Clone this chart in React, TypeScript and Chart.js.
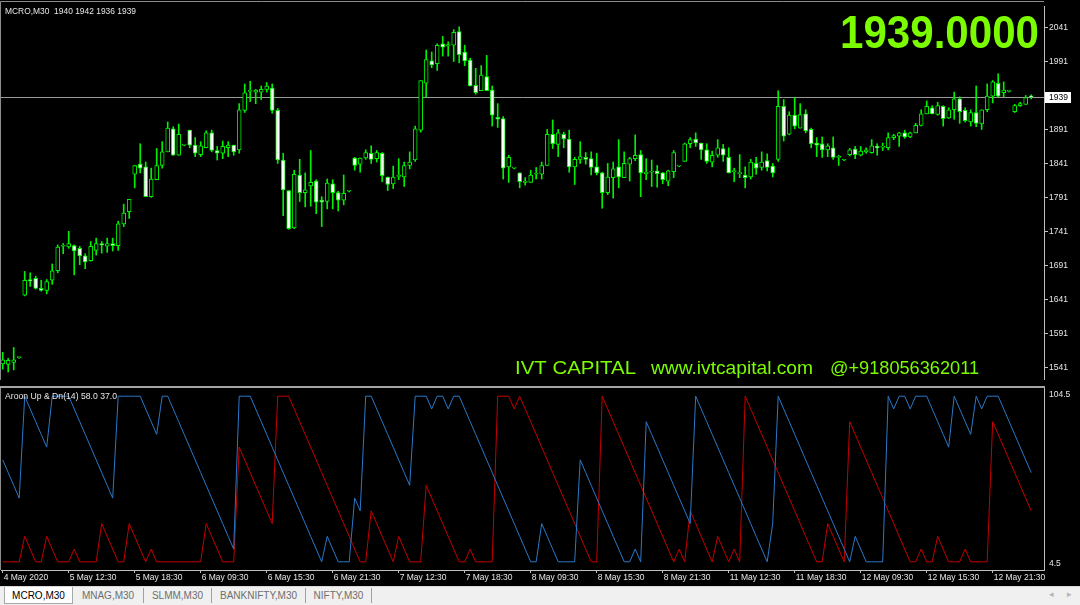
import React, { useEffect, useRef } from "react";
import { Chart, registerables } from "chart.js";

Chart.register(...registerables);

// ---------- data ----------
const SYMBOL = "MCRO,M30";

const OPEN = [
  1546, 1545, 1548, 1555, 1647, 1670, 1672, 1657, 1654, 1669, 1683, 1719, 1718, 1720, 1716, 1705, 1698, 1713, 1723, 1719,
  1723, 1720, 1752, 1770, 1825, 1840, 1836, 1792, 1817, 1838, 1858, 1892, 1853, 1868, 1890, 1868, 1854, 1864, 1886, 1860,
  1856, 1864, 1868, 1861, 1919, 1947, 1946, 1946, 1950, 1952, 1919, 1846, 1801, 1746, 1824, 1798, 1808, 1815, 1787, 1785,
  1811, 1798, 1787, 1800, 1849, 1840, 1849, 1856, 1848, 1856, 1821, 1811, 1822, 1821, 1838, 1846, 1890, 1959, 1992, 1988,
  2017, 2014, 2015, 2035, 2005, 1993, 1956, 1948, 1969, 1949, 1909, 1907, 1836, 1834, 1827, 1813, 1813, 1825, 1825, 1838,
  1884, 1869, 1884, 1877, 1836, 1847, 1850, 1848, 1836, 1827, 1798, 1820, 1836, 1820, 1840, 1848, 1854, 1826, 1828, 1830,
  1827, 1815, 1829, 1837, 1844, 1870, 1877, 1871, 1861, 1843, 1853, 1863, 1850, 1829, 1826, 1824, 1821, 1841, 1835, 1845,
  1837, 1847, 1925, 1884, 1912, 1893, 1914, 1891, 1871, 1870, 1861, 1864, 1850, 1846, 1854, 1862, 1853, 1858, 1857, 1866,
  1865, 1864, 1879, 1881, 1886, 1880, 1886, 1897, 1914, 1923, 1913, 1925, 1908, 1920, 1936, 1919, 1902, 1916, 1899, 1920,
  1940, 1959, 1945, 1947, 1917, 1926, 1928, 1940,
];
const HIGH = [
  1563, 1554, 1570, 1556, 1682, 1680, 1675, 1669, 1670, 1693, 1721, 1723, 1741, 1721, 1719, 1708, 1726, 1731, 1726, 1731,
  1731, 1756, 1781, 1788, 1838, 1870, 1843, 1834, 1863, 1873, 1902, 1895, 1899, 1869, 1890, 1879, 1873, 1889, 1890, 1866,
  1874, 1873, 1868, 1929, 1958, 1962, 1950, 1955, 1960, 1958, 1922, 1856, 1801, 1831, 1847, 1827, 1860, 1817, 1792, 1818,
  1817, 1800, 1824, 1801, 1850, 1849, 1861, 1867, 1860, 1857, 1821, 1837, 1848, 1843, 1858, 1896, 1963, 2008, 2005, 2017,
  2028, 2020, 2038, 2042, 2015, 1996, 1981, 1985, 2000, 1955, 1929, 1910, 1853, 1835, 1827, 1820, 1831, 1835, 1843, 1891,
  1905, 1891, 1887, 1890, 1850, 1873, 1857, 1858, 1856, 1828, 1841, 1843, 1876, 1858, 1850, 1883, 1860, 1848, 1846, 1838,
  1828, 1831, 1860, 1838, 1871, 1879, 1886, 1871, 1870, 1859, 1876, 1869, 1864, 1834, 1854, 1836, 1847, 1850, 1858, 1855,
  1841, 1948, 1935, 1917, 1938, 1929, 1920, 1893, 1879, 1880, 1870, 1880, 1853, 1847, 1863, 1866, 1866, 1864, 1876, 1870,
  1871, 1886, 1884, 1887, 1890, 1887, 1900, 1920, 1933, 1926, 1931, 1926, 1923, 1946, 1939, 1923, 1920, 1955, 1920, 1958,
  1963, 1973, 1961, 1948, 1928, 1931, 1941, 1942,
];
const LOW = [
  1538, 1534, 1537, 1554, 1646, 1660, 1656, 1653, 1649, 1663, 1680, 1708, 1716, 1677, 1692, 1686, 1697, 1706, 1709, 1710,
  1712, 1713, 1748, 1760, 1805, 1827, 1792, 1791, 1817, 1834, 1858, 1853, 1853, 1867, 1864, 1851, 1851, 1864, 1858, 1846,
  1848, 1851, 1853, 1856, 1916, 1932, 1929, 1935, 1946, 1915, 1841, 1764, 1744, 1745, 1785, 1777, 1778, 1767, 1748, 1774,
  1774, 1771, 1780, 1799, 1831, 1828, 1847, 1841, 1843, 1814, 1801, 1804, 1817, 1807, 1833, 1844, 1887, 1939, 1982, 1978,
  1999, 1999, 1991, 1989, 1985, 1955, 1943, 1948, 1948, 1896, 1894, 1818, 1813, 1833, 1805, 1809, 1813, 1818, 1818, 1838,
  1863, 1851, 1864, 1828, 1810, 1841, 1840, 1824, 1824, 1775, 1795, 1790, 1805, 1820, 1815, 1845, 1792, 1817, 1807, 1806,
  1811, 1808, 1820, 1836, 1844, 1864, 1866, 1847, 1841, 1836, 1850, 1844, 1827, 1814, 1820, 1805, 1818, 1825, 1831, 1830,
  1821, 1844, 1874, 1883, 1892, 1893, 1886, 1864, 1851, 1850, 1851, 1847, 1838, 1845, 1852, 1848, 1852, 1856, 1856, 1853,
  1860, 1861, 1876, 1866, 1878, 1879, 1886, 1896, 1914, 1914, 1912, 1896, 1907, 1906, 1900, 1902, 1896, 1895, 1891, 1917,
  1930, 1939, 1939, 1946, 1916, 1925, 1928, 1936,
];
const CLOSE = [
  1552, 1551, 1552, 1555, 1669, 1668, 1657, 1654, 1667, 1683, 1718, 1720, 1723, 1712, 1705, 1696, 1719, 1723, 1721, 1723,
  1720, 1752, 1768, 1788, 1838, 1834, 1792, 1818, 1838, 1858, 1893, 1853, 1884, 1868, 1868, 1856, 1867, 1886, 1860, 1856,
  1866, 1868, 1858, 1920, 1945, 1948, 1949, 1950, 1955, 1919, 1846, 1802, 1745, 1825, 1798, 1802, 1813, 1784, 1784, 1812,
  1798, 1787, 1797, 1800, 1838, 1849, 1857, 1847, 1857, 1823, 1810, 1821, 1823, 1838, 1843, 1892, 1963, 1994, 1986, 2015,
  2012, 2016, 2034, 2001, 1992, 1955, 1945, 1971, 1948, 1912, 1906, 1834, 1850, 1834, 1814, 1815, 1824, 1826, 1838, 1884,
  1870, 1886, 1877, 1836, 1847, 1851, 1847, 1835, 1827, 1798, 1821, 1833, 1821, 1841, 1848, 1853, 1827, 1828, 1828, 1826,
  1817, 1830, 1857, 1837, 1870, 1876, 1871, 1861, 1844, 1853, 1864, 1853, 1827, 1829, 1826, 1820, 1843, 1834, 1843, 1835,
  1827, 1925, 1881, 1912, 1896, 1913, 1889, 1870, 1868, 1861, 1867, 1850, 1851, 1846, 1861, 1854, 1859, 1861, 1867, 1864,
  1866, 1879, 1882, 1886, 1880, 1886, 1897, 1914, 1925, 1914, 1926, 1907, 1920, 1936, 1917, 1904, 1916, 1900, 1920, 1940,
  1961, 1940, 1949, 1947, 1926, 1929, 1938, 1939,
];

const PRICE_TICKS = [2041, 1991, 1941, 1891, 1841, 1791, 1741, 1691, 1641, 1591, 1541];
const TIME_LABELS = [
  "4 May 2020", "5 May 12:30", "5 May 18:30", "6 May 09:30", "6 May 15:30", "6 May 21:30",
  "7 May 12:30", "7 May 18:30", "8 May 09:30", "8 May 15:30", "8 May 21:30", "11 May 12:30",
  "11 May 18:30", "12 May 09:30", "12 May 15:30", "12 May 21:30",
];
const BARS_PER_LABEL = 12;

// Aroon(14): first 13 values need history before the first visible bar
const AROON_PERIOD = 14;
const AROON_UP_HEAD = [65, 58, 51, 44, 100, 93, 86, 79, 72, 100, 100, 100, 100];
const AROON_DN_HEAD = [9, 9, 9, 9, 23, 16, 9, 9, 23, 16, 9, 9, 9];

const WATERMARK = ["IVT CAPITAL", "www.ivtcapital.com", "@+918056362011"];
const TABS = ["MCRO,M30", "MNAG,M30", "SLMM,M30", "BANKNIFTY,M30", "NIFTY,M30"];

// ---------- styling / layout ----------
const X_MIN = -0.31;
const X_MAX = 189.33;
const PRICE_MIN = 1522.3;
const PRICE_MAX = 2072.6;
const AROON_MIN = 4.5;
const AROON_MAX = 104.5;

const CANDLE = "#00f000";
const AXIS_LINE = "#c0c0c0";
const TEXT = "#e6e6e6";
const GREEN_TEXT = "#7cfc00";
const UP_COLOR = "#2a78c8";
const DN_COLOR = "#c40000";
const FONT = '"Liberation Sans", Arial, sans-serif';
const WATERMARK_BOXES = [
  [515, 121],
  [651, 162],
  [830, 149],
];
const TAB_WIDTHS = [69, 71, 68, 94, 66];

function aroonSeries(values: number[], head: number[], wantHigh: boolean): number[] {
  const step = Math.floor(100 / AROON_PERIOD);
  return values.map((_, i) => {
    if (i < AROON_PERIOD - 1) return head[i];
    let best = i;
    for (let k = i - 1; k >= i - AROON_PERIOD + 1; k--) {
      if (wantHigh ? values[k] > values[best] : values[k] < values[best]) best = k;
    }
    return 100 - step * (i - best);
  });
}

function drawFitted(ctx: CanvasRenderingContext2D, text: string, x: number, y: number, width: number) {
  const w = ctx.measureText(text).width || 1;
  ctx.save();
  ctx.translate(x, y);
  ctx.scale(width / w, 1);
  ctx.fillText(text, 0, 0);
  ctx.restore();
}

export default function App() {
  const mainRef = useRef<HTMLCanvasElement | null>(null);
  const aroonRef = useRef<HTMLCanvasElement | null>(null);

  useEffect(() => {
    const n = CLOSE.length;
    const last = n - 1;
    const AROON_UP = aroonSeries(HIGH, AROON_UP_HEAD, true);
    const AROON_DN = aroonSeries(LOW, AROON_DN_HEAD, false);

    const mainOverlay = {
      id: "mainOverlay",
      beforeDatasetsDraw(chart: any) {
        const { ctx, chartArea: a, scales } = chart;
        const py = Math.round(scales.y.getPixelForValue(CLOSE[last])) + 0.5;
        ctx.save();
        ctx.strokeStyle = "#9a9a9a";
        ctx.lineWidth = 1;
        ctx.beginPath();
        ctx.moveTo(a.left, py);
        ctx.lineTo(a.right, py);
        ctx.stroke();
        ctx.restore();
      },
      afterDraw(chart: any) {
        const { ctx, chartArea: a, scales } = chart;
        ctx.save();
        // frame
        ctx.strokeStyle = "#8c8c8c";
        ctx.lineWidth = 1;
        ctx.beginPath();
        ctx.moveTo(0.5, a.bottom);
        ctx.lineTo(0.5, 1.5);
        ctx.lineTo(a.right, 1.5);
        ctx.stroke();
        // last price box
        const py = Math.round(scales.y.getPixelForValue(CLOSE[last]));
        ctx.fillStyle = "#ffffff";
        ctx.fillRect(a.right + 1, py - 5, 26, 11);
        ctx.fillStyle = "#000000";
        ctx.font = `8.5px ${FONT}`;
        ctx.textBaseline = "middle";
        ctx.textAlign = "left";
        ctx.fillText(String(CLOSE[last]), a.right + 5, py + 0.5);
        // header
        ctx.textBaseline = "alphabetic";
        ctx.fillStyle = TEXT;
        ctx.font = `9px ${FONT}`;
        drawFitted(ctx, `${SYMBOL}  ${OPEN[last]} ${HIGH[last]} ${LOW[last]} ${CLOSE[last]}`, 5, 14, 131);
        // big last price
        ctx.fillStyle = GREEN_TEXT;
        ctx.font = `bold 46px ${FONT}`;
        drawFitted(ctx, CLOSE[last].toFixed(4), 840, 48, 199);
        // watermark
        ctx.font = `19px ${FONT}`;
        WATERMARK.forEach((t, k) => drawFitted(ctx, t, WATERMARK_BOXES[k][0], 374, WATERMARK_BOXES[k][1]));
        ctx.restore();
      },
    };

    const main = new Chart(mainRef.current as HTMLCanvasElement, {
      type: "bar",
      data: {
        datasets: [
          {
            label: "wick",
            data: LOW.map((l, i) => ({ x: i, y: [l, HIGH[i]] })) as any,
            backgroundColor: CANDLE,
            borderWidth: 0,
            barThickness: 1,
            grouped: false,
            order: 2,
          },
          {
            label: "body",
            data: OPEN.map((o, i) => ({ x: i, y: [o, CLOSE[i]] })) as any,
            backgroundColor: OPEN.map((o, i) => (CLOSE[i] >= o ? "#000000" : "#ffffff")),
            borderColor: CANDLE,
            borderWidth: 1,
            borderSkipped: false,
            barThickness: 4,
            minBarLength: 1,
            grouped: false,
            order: 1,
          },
        ],
      },
      options: {
        responsive: false,
        animation: false,
        devicePixelRatio: 1,
        events: [],
        layout: { padding: { left: 1, top: 2, right: 0, bottom: 1 } },
        plugins: { legend: { display: false }, tooltip: { enabled: false } },
        scales: {
          x: { type: "linear", display: false, min: X_MIN, max: X_MAX, offset: false },
          y: {
            position: "right",
            min: PRICE_MIN,
            max: PRICE_MAX,
            afterBuildTicks: (s: any) => {
              s.ticks = PRICE_TICKS.map((v) => ({ value: v }));
            },
            afterFit: (s: any) => {
              s.width = 36;
            },
            ticks: {
              color: TEXT,
              font: { size: 8.5, family: FONT },
              padding: 1,
              callback: (v: any) => String(v),
            },
            grid: { drawOnChartArea: false, drawTicks: true, tickLength: 4, color: AXIS_LINE },
            border: { display: true, color: AXIS_LINE, width: 1 },
          },
        },
      } as any,
      plugins: [mainOverlay],
    });

    const aroonOverlay = {
      id: "aroonOverlay",
      afterDraw(chart: any) {
        const { ctx, chartArea: a, scales } = chart;
        ctx.save();
        ctx.strokeStyle = "#8c8c8c";
        ctx.lineWidth = 1;
        ctx.beginPath();
        ctx.moveTo(0.5, a.top);
        ctx.lineTo(0.5, a.bottom);
        ctx.stroke();
        ctx.fillStyle = TEXT;
        ctx.font = `9px ${FONT}`;
        ctx.textBaseline = "alphabetic";
        drawFitted(
          ctx,
          `Aroon Up & Dn(${AROON_PERIOD}) ${AROON_UP[last].toFixed(1)} ${AROON_DN[last].toFixed(1)}`,
          5,
          a.top + 11,
          112
        );
        ctx.font = `8.5px ${FONT}`;
        ctx.textBaseline = "middle";
        ctx.fillText(scales.y.max.toFixed(1), a.right + 5, a.top + 7);
        ctx.fillText(scales.y.min.toFixed(1), a.right + 5, a.bottom - 6);
        ctx.restore();
      },
    };

    const aroon = new Chart(aroonRef.current as HTMLCanvasElement, {
      type: "line",
      data: {
        datasets: [
          {
            label: "Aroon Up",
            data: AROON_UP.map((v, i) => ({ x: i, y: v })),
            borderColor: UP_COLOR,
            borderWidth: 1,
            pointRadius: 0,
            tension: 0,
          },
          {
            label: "Aroon Dn",
            data: AROON_DN.map((v, i) => ({ x: i, y: v })),
            borderColor: DN_COLOR,
            borderWidth: 1,
            pointRadius: 0,
            tension: 0,
          },
        ],
      },
      options: {
        responsive: false,
        animation: false,
        devicePixelRatio: 1,
        events: [],
        layout: { padding: { left: 1, top: 0, right: 0, bottom: 0 } },
        plugins: { legend: { display: false }, tooltip: { enabled: false } },
        scales: {
          x: {
            type: "linear",
            min: X_MIN,
            max: X_MAX,
            offset: false,
            afterBuildTicks: (s: any) => {
              s.ticks = TIME_LABELS.map((_, k) => ({ value: k * BARS_PER_LABEL }));
            },
            afterFit: (s: any) => {
              s.height = 17;
            },
            ticks: {
              color: TEXT,
              font: { size: 8.5, family: FONT },
              align: "start",
              labelOffset: 1,
              maxRotation: 0,
              minRotation: 0,
              autoSkip: false,
              padding: 0,
              callback: (v: any) => TIME_LABELS[Math.round(v / BARS_PER_LABEL)] ?? "",
            },
            grid: { drawOnChartArea: false, drawTicks: true, tickLength: 3, color: AXIS_LINE },
            border: { display: true, color: AXIS_LINE, width: 1 },
          },
          y: {
            position: "right",
            min: AROON_MIN,
            max: AROON_MAX,
            afterFit: (s: any) => {
              s.width = 36;
            },
            ticks: { display: false },
            grid: { display: false },
            border: { display: true, color: AXIS_LINE, width: 1 },
          },
        },
      } as any,
      plugins: [aroonOverlay],
    });

    return () => {
      main.destroy();
      aroon.destroy();
    };
  }, []);

  let tabX = 4;
  const tabs = TABS.map((t, k) => {
    const left = tabX;
    tabX += TAB_WIDTHS[k];
    const active = k === 0;
    return (
      <div
        key={t}
        style={{
          position: "absolute",
          left,
          top: active ? 587 : 588,
          width: TAB_WIDTHS[k],
          height: active ? 17 : 15,
          boxSizing: "border-box",
          background: active ? "#ffffff" : "transparent",
          border: active ? "1px solid #a8a8a8" : "none",
          borderTop: "none",
          borderRight: active ? "1px solid #a8a8a8" : "1px solid #a0a0a0",
          color: active ? "#000000" : "#6e6e6e",
          font: `10px ${FONT}`,
          display: "flex",
          alignItems: "center",
          justifyContent: "center",
          whiteSpace: "nowrap",
        }}
      >
        {t}
      </div>
    );
  });

  return (
    <div
      style={{
        position: "fixed",
        left: 0,
        top: 0,
        width: 1080,
        height: 605,
        background: "#000000",
        overflow: "hidden",
      }}
    >
      <canvas ref={mainRef} width={1080} height={386} style={{ position: "absolute", left: 0, top: 0 }} />
      <div style={{ position: "absolute", left: 0, top: 386, width: 1045, height: 2, background: "#a4a4a4" }} />
      <canvas ref={aroonRef} width={1080} height={199} style={{ position: "absolute", left: 0, top: 388 }} />
      <div
        style={{
          position: "absolute",
          left: 0,
          top: 586,
          width: 1080,
          height: 19,
          background: "#f0f0f0",
          borderTop: "1px solid #d8d8d8",
          boxSizing: "border-box",
        }}
      />
      {tabs}
      <div style={{ position: "absolute", left: 1049, top: 589, color: "#b4b4b4", font: `9px ${FONT}` }}>◂</div>
      <div style={{ position: "absolute", left: 1067, top: 589, color: "#b4b4b4", font: `9px ${FONT}` }}>▸</div>
    </div>
  );
}
